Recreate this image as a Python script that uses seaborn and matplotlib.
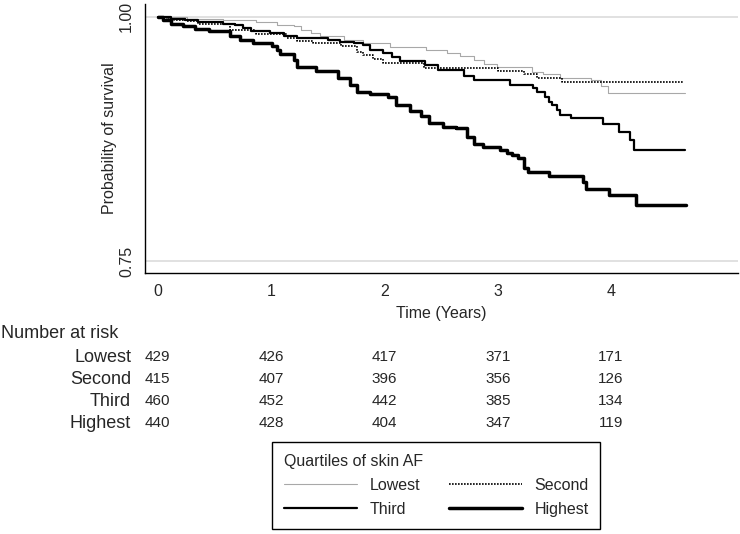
import matplotlib
matplotlib.use("Agg")
import matplotlib.pyplot as plt
import matplotlib.transforms as mtransforms
import pandas as pd
import seaborn as sns

# Kaplan-Meier step values (time in years, survival)
lowest_t = [0, 0.26, 0.58, 0.87, 1.05, 1.20, 1.26, 1.35, 1.43, 1.64, 1.81, 2.05, 2.37,
            2.55, 2.67, 2.79, 2.88, 2.99, 3.30, 3.40, 3.55, 3.82, 3.91, 3.97, 4.65]
lowest_s = [1.0, 0.998, 0.997, 0.995, 0.992, 0.990, 0.986, 0.983, 0.980, 0.976, 0.973, 0.969, 0.966,
            0.963, 0.960, 0.956, 0.952, 0.949, 0.943, 0.941, 0.937, 0.935, 0.929, 0.922, 0.922]

second_t = [0, 0.08, 0.14, 0.26, 0.36, 0.64, 0.87, 1.14, 1.23, 1.37, 1.62, 1.76, 1.81,
            1.90, 1.99, 2.35, 3.0, 3.23, 3.35, 3.57, 4.64]
second_s = [1.0, 0.998, 0.997, 0.996, 0.993, 0.986, 0.982, 0.978, 0.975, 0.973, 0.970, 0.964, 0.961,
            0.957, 0.953, 0.947, 0.944, 0.941, 0.937, 0.933, 0.933]

third_t = [0, 0.12, 0.24, 0.36, 0.58, 0.68, 0.75, 0.82, 0.99, 1.11, 1.23, 1.50, 1.61, 1.73,
           1.81, 1.87, 1.99, 2.07, 2.14, 2.36, 2.47, 2.70, 2.79, 3.11, 3.31, 3.35, 3.42, 3.45,
           3.48, 3.52, 3.55, 3.65, 3.93, 4.07, 4.17, 4.20, 4.65]
third_s = [1.0, 0.998, 0.997, 0.995, 0.993, 0.992, 0.988, 0.985, 0.983, 0.980, 0.978, 0.976, 0.974, 0.973,
           0.971, 0.966, 0.963, 0.959, 0.955, 0.951, 0.945, 0.939, 0.935, 0.930, 0.927, 0.923, 0.918, 0.913,
           0.910, 0.905, 0.899, 0.896, 0.890, 0.882, 0.874, 0.864, 0.864]

highest_t = [0, 0.05, 0.12, 0.22, 0.33, 0.45, 0.64, 0.73, 0.84, 1.01, 1.05, 1.08, 1.20, 1.23,
             1.40, 1.59, 1.70, 1.76, 1.87, 2.03, 2.10, 2.23, 2.32, 2.39, 2.52, 2.63, 2.73, 2.79,
             2.87, 3.02, 3.08, 3.13, 3.18, 3.23, 3.27, 3.45, 3.75, 3.78, 3.98, 4.22, 4.66]
highest_s = [1.0, 0.997, 0.993, 0.990, 0.987, 0.985, 0.980, 0.976, 0.973, 0.970, 0.966, 0.962, 0.956, 0.949,
             0.944, 0.937, 0.930, 0.923, 0.921, 0.918, 0.910, 0.904, 0.898, 0.891, 0.887, 0.886, 0.877, 0.870,
             0.867, 0.864, 0.861, 0.858, 0.855, 0.845, 0.841, 0.837, 0.831, 0.824, 0.818, 0.807, 0.807]

groups = ["Lowest", "Second", "Third", "Highest"]
risk_times = [0, 1, 2, 3, 4]
risk_lowest = [429, 426, 417, 371, 171]
risk_second = [415, 407, 396, 356, 126]
risk_third = [460, 452, 442, 385, 134]
risk_highest = [440, 428, 404, 347, 119]

sns.set_style("white")
plt.rcParams["font.family"] = ["Liberation Sans", "DejaVu Sans"]

fig = plt.figure(figsize=(7.4, 5.34), dpi=100)
ax = fig.add_axes([145 / 740, 1 - 273 / 534, 593 / 740, 269 / 534])

curves = {
    "Lowest": (lowest_t, lowest_s, dict(color="#a8a8a8", linewidth=0.8, linestyle="-")),
    "Second": (second_t, second_s, dict(color="black", linewidth=1.2, linestyle=(0, (1, 0.8)))),
    "Third": (third_t, third_s, dict(color="black", linewidth=1.6, linestyle="-")),
    "Highest": (highest_t, highest_s, dict(color="black", linewidth=2.5, linestyle="-")),
}
handles = {}
for g in groups:
    t, s, style = curves[g]
    df = pd.DataFrame({"time": t, "surv": s})
    sns.lineplot(df, x="time", y="surv", ax=ax, estimator=None, drawstyle="steps-post", **style)
    handles[g] = ax.lines[-1]

ax.set_xlim(-0.112, 5.12)
ax.set_ylim(0.7377, 1.013)
ax.set_xticks([0, 1, 2, 3, 4])
ax.set_yticks([0.75, 1.0])
ax.set_yticklabels(["0.75", "1.00"], rotation=90, va="center")
ax.yaxis.grid(True, color="#dcdcdc", linewidth=1.2)
ax.xaxis.grid(False)
sns.despine(ax=ax)
for sp in ["left", "bottom"]:
    ax.spines[sp].set_color("black")
    ax.spines[sp].set_linewidth(1.0)
ax.tick_params(direction="out", length=5, width=1, color="black", labelsize=11.5, pad=3)

ax.set_xlabel("Time (Years)", fontsize=11.5)
ax.set_ylabel("Probability of survival", fontsize=11.5)
ax.xaxis.set_label_coords(0.5, -0.122)
ax.yaxis.set_label_coords(-0.047, 0.5)

# number at risk table, columns lined up with the x ticks
trans = mtransforms.blended_transform_factory(ax.transData, fig.transFigure)
fig.text(0.002, 1 - 334 / 534, "Number at risk", fontsize=13, va="center", ha="left")
rows = [risk_lowest, risk_second, risk_third, risk_highest]
row_y = [357, 379, 401, 423]
for g, counts, y in zip(groups, rows, row_y):
    fig.text(131 / 740, 1 - y / 534, g, fontsize=13, va="center", ha="right")
    for t, n in zip(risk_times, counts):
        ax.text(t, 1 - y / 534, str(n), transform=trans, fontsize=11, va="center", ha="center")

order = ["Lowest", "Third", "Second", "Highest"]
leg = fig.legend([handles[g] for g in order], order, ncol=2, loc="upper left",
                 bbox_to_anchor=(272 / 740, 1 - 442 / 534), borderaxespad=0, frameon=True,
                 fancybox=False, edgecolor="black", title="Quartiles of skin AF", alignment="left",
                 fontsize=11.5, title_fontsize=11.5, handlelength=4.6, handletextpad=0.75,
                 columnspacing=1.8, borderpad=0.75, labelspacing=0.55, framealpha=1)
leg.get_frame().set_linewidth(1.0)

plt.savefig("out.png", dpi=100)
